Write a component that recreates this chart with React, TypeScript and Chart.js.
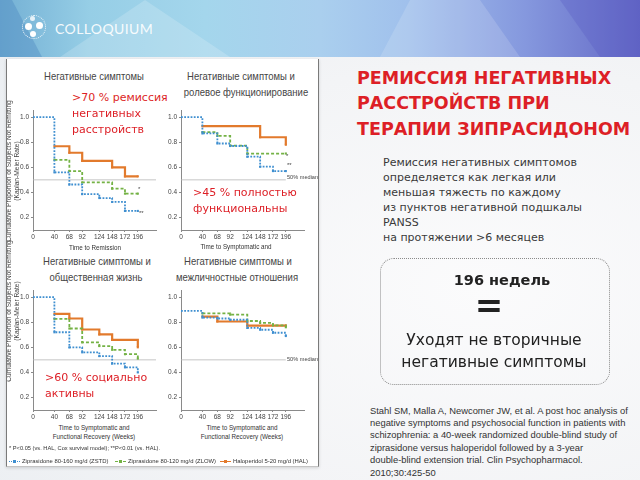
import React, { useEffect, useRef } from "react";
import { Chart, registerables } from "chart.js";

Chart.register(...registerables);

// ---------------- data ----------------
const WEEKS = [0, 40, 68, 92, 124, 148, 172, 196];
const X_TICKS = [0, 40, 68, 92, 124, 148, 172, 196];
const Y_TICKS = [0.2, 0.4, 0.6, 0.8, 1.0];
const X_MAX = 230;
const Y_MIN = 0.1;
const Y_MAX = 1.05;
const MEDIAN = 0.5;

const SERIES_NAMES = [
  "Ziprasidone 80-160 mg/d (ZSTD)",
  "Ziprasidone 80-120 mg/d (ZLOW)",
  "Haloperidol 5-20 mg/d (HAL)",
];

// Негативные симптомы (time to remission)
const REM_ZSTD = [1.0, 0.56, 0.463, 0.386, 0.355, 0.324, 0.252, 0.252];
const REM_ZLOW = [null, 0.66, 0.57, 0.48, 0.48, 0.43, 0.39, 0.39];
const REM_HAL = [null, 0.768, 0.716, 0.652, 0.652, 0.6, 0.528, 0.528];

// Негативные симптомы и ролевое функционирование
const ROLE_ZSTD = [1.0, 0.87, 0.79, 0.77, 0.685, 0.605, 0.57, 0.57];
const ROLE_ZLOW = [null, 0.88, 0.85, 0.773, 0.71, 0.71, 0.71, 0.71];
const ROLE_HAL = [null, 0.928, 0.928, 0.928, 0.928, 0.84, 0.84, 0.78];

// Негативные симптомы и общественная жизнь
const SOC_ZSTD = [1.0, 0.72, 0.6, 0.56, 0.53, 0.47, 0.44, 0.4];
const SOC_ZLOW = [null, 0.827, 0.75, 0.64, 0.61, 0.58, 0.545, 0.51];
const SOC_HAL = [null, 0.866, 0.83, 0.742, 0.703, 0.66, 0.66, 0.6];

// Негативные симптомы и межличностные отношения
const INT_ZSTD = [0.89, 0.837, 0.83, 0.82, 0.755, 0.74, 0.716, 0.69];
const INT_ZLOW = [null, 0.87, 0.87, 0.86, 0.81, 0.795, 0.775, 0.76];
const INT_HAL = [null, 0.845, 0.806, 0.806, 0.773, 0.773, 0.773, 0.775];

// ---------------- styles ----------------
const BLUE = "#3f8fd0";
const GREEN = "#74b245";
const ORANGE = "#e27a2c";
const RED = "#dd1f26";
const SANS = "'Liberation Sans', Arial, sans-serif";
const DEJAVU = "'DejaVu Sans', Verdana, sans-serif";

Chart.defaults.font.family = "'Liberation Sans', Arial, sans-serif";

const CW = 151;
const CH = 137;

type Arr = (number | null)[];

function KmChart(props: {
  left: number;
  top: number;
  zstd: Arr;
  zlow: Arr;
  hal: Arr;
  medianEnd: number;
}) {
  const ref = useRef<HTMLCanvasElement>(null);
  useEffect(() => {
    const toPts = (arr: Arr) =>
      WEEKS.map((w, i) => ({ x: w, y: arr[i] })).filter((p) => p.y !== null);
    const radius = (ctx: any) => {
      const d = ctx.dataset.data;
      const i = ctx.dataIndex;
      if (i === 0 || i === d.length - 1) return 1.5;
      return d[i].y !== d[i - 1].y ? 1.5 : 0;
    };
    const line = (arr: Arr, color: string, dash: number[], width: number) => ({
      data: toPts(arr),
      borderColor: color,
      backgroundColor: color,
      borderWidth: width,
      borderDash: dash,
      stepped: "before" as const,
      pointRadius: radius,
      pointStyle: "rect" as const,
      pointBorderWidth: 0,
      fill: false,
    });
    const chart = new Chart(ref.current as HTMLCanvasElement, {
      type: "line",
      data: {
        datasets: [
          line(props.zstd, BLUE, [1.8, 1.4], 1.8) as any,
          line(props.zlow, GREEN, [3, 2], 1.8) as any,
          line(props.hal, ORANGE, [], 2.2) as any,
          {
            data: [
              { x: 0, y: MEDIAN },
              { x: props.medianEnd, y: MEDIAN },
            ],
            borderColor: "#b8b8b8",
            borderWidth: 0.8,
            pointRadius: 0,
            fill: false,
          },
        ],
      },
      options: {
        responsive: false,
        animation: false,
        events: [],
        layout: { padding: { left: 0, right: 6, top: 4, bottom: 0 } },
        plugins: {
          legend: { display: false },
          tooltip: { enabled: false },
          title: { display: false },
        },
        scales: {
          x: {
            type: "linear",
            min: 0,
            max: X_MAX,
            afterBuildTicks: (s: any) => {
              s.ticks = X_TICKS.map((v) => ({ value: v }));
            },
            afterFit: (s: any) => {
              s.height = 12;
            },
            ticks: {
              autoSkip: false,
              maxRotation: 0,
              padding: 1,
              color: "#444",
              font: { size: 6.5 },
              callback: (v: any) => String(v),
            },
            grid: { drawOnChartArea: false, tickLength: 2, color: "#8a8a8a" },
            border: { color: "#8a8a8a", width: 1 },
          },
          y: {
            type: "linear",
            min: Y_MIN,
            max: Y_MAX,
            afterBuildTicks: (s: any) => {
              s.ticks = Y_TICKS.map((v) => ({ value: v }));
            },
            afterFit: (s: any) => {
              s.width = 22;
            },
            ticks: {
              padding: 2,
              color: "#444",
              font: { size: 6.5 },
              callback: (v: any) => Number(v).toFixed(1),
            },
            grid: { drawOnChartArea: false, tickLength: 2, color: "#8a8a8a" },
            border: { color: "#8a8a8a", width: 1 },
          },
        },
      },
    });
    return () => chart.destroy();
  }, []);
  return (
    <canvas
      ref={ref}
      width={CW}
      height={CH}
      style={{ position: "absolute", left: props.left, top: props.top }}
    />
  );
}

function Txt(props: {
  x: number;
  y: number;
  text: string;
  size: number;
  color?: string;
  weight?: number | string;
  family?: string;
  align?: "left" | "center";
  ls?: number;
  sx?: number;
}) {
  const lh = Math.round(props.size * 1.4);
  const center = props.align === "center";
  return (
    <div
      style={{
        position: "absolute",
        left: center ? props.x - 200 : props.x,
        width: center ? 400 : undefined,
        top: props.y - lh / 2,
        height: lh,
        lineHeight: lh + "px",
        fontSize: props.size,
        fontFamily: props.family || SANS,
        fontWeight: props.weight || 400,
        color: props.color || "#333",
        textAlign: center ? "center" : "left",
        whiteSpace: "nowrap",
        letterSpacing: props.ls || 0,
        transform: props.sx ? `scaleX(${props.sx})` : undefined,
        transformOrigin: center ? "50% 50%" : "0% 50%",
      }}
    >
      {props.text}
    </div>
  );
}

function YTitle(props: { cx: number; cy: number }) {
  return (
    <div
      style={{
        position: "absolute",
        left: props.cx - 90,
        top: props.cy - 8,
        width: 180,
        height: 16,
        transform: "rotate(-90deg)",
        textAlign: "center",
        fontSize: 6.6,
        lineHeight: "7.5px",
        fontFamily: SANS,
        color: "#444",
        whiteSpace: "nowrap",
      }}
    >
      Cumulative Proportion of Subjects Not Remitting
      <br />
      (Kaplan-Meier Rate)
    </div>
  );
}

function LegendMark(props: { x: number; y: number; color: string; dash: string }) {
  return (
    <div style={{ position: "absolute", left: props.x, top: props.y, width: 11, height: 0, borderTop: `1.3px ${props.dash} ${props.color}` }}>
      <div style={{ position: "absolute", left: 4, top: -2.4, width: 3, height: 3, background: props.color }} />
    </div>
  );
}

export default function App() {
  const desc = [
    "Ремиссия негативных симптомов",
    "определяется как легкая или",
    "меньшая тяжесть по каждому",
    "из пунктов негативной подшкалы",
    "PANSS",
    "на протяжении >6 месяцев",
  ];
  const cite = [
    "Stahl SM, Malla A, Newcomer JW, et al. A post hoc analysis of",
    "negative symptoms and psychosocial function in patients with",
    "schizophrenia: a 40-week randomized double-blind study of",
    "ziprasidone versus haloperidol followed by a 3-year",
    "double-blind extension trial. Clin Psychopharmacol.",
    "2010;30:425-50",
  ];
  const title = ["РЕМИССИЯ НЕГАТИВНЫХ", "РАССТРОЙСТВ ПРИ", "ТЕРАПИИ ЗИПРАСИДОНОМ"];
  const TS = 10.8;
  const TX = 0.88;
  return (
    <div
      style={{
        position: "absolute",
        left: 0,
        top: 0,
        width: 640,
        height: 480,
        overflow: "hidden",
        background:
          "radial-gradient(ellipse at 75% 60%, #fbfbfc 0%, #f3f4f6 55%, #e9edf1 100%)",
        fontFamily: SANS,
      }}
    >
      {/* header */}
      <div
        style={{
          position: "absolute",
          left: 0,
          top: 0,
          width: 640,
          height: 57,
          background:
            "linear-gradient(90deg, #74b0d4 0%, #96cee6 14%, #a4d6ec 32%, #aacfee 50%, #a0c0ec 64%, #8598de 82%, #6569c6 100%)",
        }}
      />
      <div style={{ position: "absolute", left: 0, top: 0, width: 640, height: 57, background: "rgba(70,130,190,0.35)", clipPath: "polygon(0px 0px, 12px 0px, 42px 57px, 0px 57px)" }} />
      <div style={{ position: "absolute", left: 0, top: 0, width: 640, height: 57, background: "rgba(255,255,255,0.18)", clipPath: "polygon(145px 0px, 230px 57px, 60px 57px)" }} />
      <div style={{ position: "absolute", left: 0, top: 0, width: 640, height: 57, background: "rgba(255,255,255,0.15)", clipPath: "polygon(410px 0px, 480px 0px, 520px 57px, 380px 57px)" }} />
      <div style={{ position: "absolute", left: 0, top: 0, width: 640, height: 57, background: "rgba(80,80,190,0.25)", clipPath: "polygon(560px 0px, 640px 0px, 640px 57px, 600px 57px)" }} />
      {/* logo */}
      <div style={{ position: "absolute", left: 22, top: 15, width: 22, height: 22, borderRadius: "50%", border: "1.5px dotted rgba(255,255,255,0.85)" }} />
      <div style={{ position: "absolute", left: 25, top: 23, width: 7, height: 7, borderRadius: "50%", background: "#fff" }} />
      <div style={{ position: "absolute", left: 36, top: 22, width: 7, height: 7, borderRadius: "50%", background: "#fff" }} />
      <div style={{ position: "absolute", left: 30, top: 31, width: 6, height: 6, borderRadius: "50%", background: "#fff" }} />
      <div style={{ position: "absolute", left: 30, top: 16, width: 5, height: 5, borderRadius: "50%", background: "rgba(255,255,255,0.8)" }} />
      <Txt x={55} y={29} text="COLLOQUIUM" size={14} color="rgba(255,255,255,0.92)" family="Lato, sans-serif" ls={0.4} />

      {/* left panel */}
      <div
        style={{
          position: "absolute",
          left: 6,
          top: 59,
          width: 311,
          height: 407,
          background: "#fff",
          borderLeft: "1px solid #7a7a7a",
          borderRight: "1px solid #7a7a7a",
          borderBottom: "1px solid #c4c4c4",
          boxShadow: "0 1px 3px rgba(0,0,0,0.15)",
          overflow: "hidden",
        }}
      >
        <div style={{ position: "absolute", left: -7, top: -60, width: 640, height: 480 }}>
          <KmChart left={11} top={106} zstd={REM_ZSTD} zlow={REM_ZLOW} hal={REM_HAL} medianEnd={X_MAX} />
          <KmChart left={159} top={106} zstd={ROLE_ZSTD} zlow={ROLE_ZLOW} hal={ROLE_HAL} medianEnd={196} />
          <KmChart left={11} top={286} zstd={SOC_ZSTD} zlow={SOC_ZLOW} hal={SOC_HAL} medianEnd={X_MAX} />
          <KmChart left={159} top={286} zstd={INT_ZSTD} zlow={INT_ZLOW} hal={INT_HAL} medianEnd={196} />

          {/* chart titles */}
          <Txt x={94} y={77} text="Негативные симптомы" size={TS} sx={TX} color="#454545" align="center" />
          <Txt x={241} y={77} text="Негативные симптомы и" size={TS} sx={TX} color="#454545" align="center" />
          <Txt x={246} y={93} text="ролевое функционирование" size={TS} sx={TX} color="#454545" align="center" />
          <Txt x={97} y={262} text="Негативные симптомы и" size={TS} sx={TX} color="#454545" align="center" />
          <Txt x={96} y={278} text="общественная жизнь" size={TS} sx={TX} color="#454545" align="center" />
          <Txt x={238} y={262} text="Негативные симптомы и" size={TS} sx={TX} color="#454545" align="center" />
          <Txt x={237} y={278} text="межличностные отношения" size={TS} sx={TX} color="#454545" align="center" />

          {/* axis titles */}
          <YTitle cx={13} cy={172} />
          <YTitle cx={13} cy={312} />
          <Txt x={95} y={248} text="Time to Remission" size={6.3} color="#333" align="center" />
          <Txt x={236} y={247} text="Time to Symptomatic and" size={6.3} color="#333" align="center" />
          <Txt x={94} y={428} text="Time to Symptomatic and" size={6.3} color="#333" align="center" />
          <Txt x={94} y={437} text="Functional Recovery (Weeks)" size={6.3} color="#333" align="center" />
          <Txt x={242} y={428} text="Time to Symptomatic and" size={6.3} color="#333" align="center" />
          <Txt x={242} y={437} text="Functional Recovery (Weeks)" size={6.3} color="#333" align="center" />

          {/* median labels & significance marks */}
          <Txt x={287} y={178} text="50% median" size={5.6} color="#444" />
          <Txt x={287} y={360} text="50% median" size={5.6} color="#444" />
          <Txt x={138} y={190} text="*" size={6} color="#444" />
          <Txt x={139} y={214} text="**" size={6} color="#444" />
          <Txt x={286} y={157} text="*" size={6} color="#444" />
          <Txt x={287} y={166} text="**" size={6} color="#444" />

          {/* red callouts */}
          <Txt x={72} y={98} text=">70 % ремиссия" size={11} color={RED} family={DEJAVU} />
          <Txt x={72} y={114} text="негативных" size={11} color={RED} family={DEJAVU} />
          <Txt x={72} y={130} text="расстройств" size={11} color={RED} family={DEJAVU} />
          <Txt x={193} y={193} text=">45 % полностью" size={11} color={RED} family={DEJAVU} />
          <Txt x={193} y={209} text="функциональны" size={11} color={RED} family={DEJAVU} />
          <Txt x={45} y={378} text=">60 % социально" size={11} color={RED} family={DEJAVU} />
          <Txt x={45} y={394} text="активны" size={11} color={RED} family={DEJAVU} />

          {/* footnote & legend */}
          <Txt x={9} y={449} text="* P<0.05 (vs. HAL, Cox survival model); **P<0.01 (vs. HAL)." size={5.7} color="#333" />
          <LegendMark x={9} y={462} color={BLUE} dash="dotted" />
          <Txt x={22} y={462} text={SERIES_NAMES[0]} size={5.9} color="#333" />
          <LegendMark x={115} y={462} color={GREEN} dash="dashed" />
          <Txt x={128} y={462} text={SERIES_NAMES[1]} size={5.9} color="#333" />
          <LegendMark x={220} y={462} color={ORANGE} dash="solid" />
          <Txt x={233} y={462} text={SERIES_NAMES[2]} size={5.9} color="#333" />
        </div>
      </div>

      {/* right side */}
      {title.map((t, i) => (
        <Txt key={t} x={357} y={78 + i * 25.8} text={t} size={17.5} weight={700} color={RED} family={DEJAVU} />
      ))}
      {desc.map((t, i) => (
        <Txt key={t} x={383} y={162 + i * 15.1} text={t} size={11} color="#3a3a3a" family={DEJAVU} />
      ))}
      <div
        style={{
          position: "absolute",
          left: 380,
          top: 258,
          width: 228,
          height: 125,
          border: "1.6px dotted #8a8a8a",
          borderRadius: 14,
        }}
      />
      <Txt x={502} y={280} text="196 недель" size={14.5} weight={700} color="#222" family={DEJAVU} align="center" />
      <Txt x={489} y={305} text="=" size={34} weight={700} color="#222" family={DEJAVU} align="center" />
      <Txt x={494} y={340} text="Уходят не вторичные" size={15.5} color="#222" family={DEJAVU} align="center" />
      <Txt x={494} y={362} text="негативные симптомы" size={15.5} color="#222" family={DEJAVU} align="center" />
      {cite.map((t, i) => (
        <Txt key={t} x={370} y={410 + i * 12.4} text={t} size={9.4} color="#333" />
      ))}
    </div>
  );
}
